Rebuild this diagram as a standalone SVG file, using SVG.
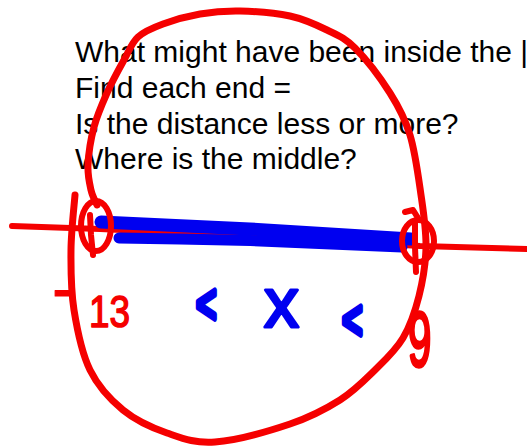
<svg xmlns="http://www.w3.org/2000/svg" width="527" height="448" viewBox="0 0 527 448">
<style>
.q{font-family:"Liberation Sans",Arial,sans-serif;font-size:30px;fill:#000}
.ink{fill:none;stroke-linecap:round;stroke-linejoin:round}
.red{stroke:#f50000}
.blue{stroke:#0000f0}
.hr{font-family:"Liberation Sans",Arial,sans-serif;fill:#f50000;stroke:#f50000;stroke-linejoin:round}
.hb{font-family:"Liberation Sans",Arial,sans-serif;fill:#0000f0;stroke:#0000f0;stroke-linejoin:round}
</style>
<rect width="527" height="448" fill="#fff"/>
<g id="questions">
<text class="q" x="75" y="61.5">What might have been inside the |</text>
<text class="q" x="75" y="97.5">Find each end =</text>
<text class="q" x="75" y="133.5">Is the distance less or more?</text>
<text class="q" x="75" y="169">Where is the middle?</text>
</g>
<g id="number-line">
<path class="ink red" stroke-width="6" d="M12,226 L100,229 L250,236 L420,246 L527,249"/>
</g>
<g id="segment">
<path class="ink blue" stroke-width="13" d="M101,222 L250,229 L411,239"/>
<path class="ink blue" stroke-width="11" d="M119,238 L180,239 L250,240.5 L402,247"/>
</g>
<g id="loop">
<path class="ink red" stroke-width="7" d="M75,195 C74.3,204.2 71.2,230.8 71,250 C70.8,269.2 70.8,290 74,310 C77.2,330 81.8,353.3 90,370 C98.2,386.7 110.2,399.5 123,410 C135.8,420.5 151.7,427.7 167,433 C182.3,438.3 194.5,443.5 215,442 C235.5,440.5 269.2,431 290,424 C310.8,417 325.8,409 340,400 C354.2,391 364.5,380.3 375,370 C385.5,359.7 395.7,350.3 403,338 C410.3,325.7 415.2,311.2 419,296 C422.8,280.8 425.7,263.8 426,247 C426.3,230.2 423.7,213.7 421,195 C418.3,176.3 415.2,152 410,135 C404.8,118 399.2,107.5 390,93 C380.8,78.5 365.5,58.5 355,48 C344.5,37.5 337.8,35.3 327,30 C316.2,24.7 304.5,19.2 290,16 C275.5,12.8 255,11.3 240,11 C225,10.7 212.8,11.8 200,14 C187.2,16.2 173.3,20.2 163,24 C152.7,27.8 144.5,31 138,37 C131.5,43 129.2,50.7 124,60 C118.8,69.3 112,81.8 107,93 C102,104.2 97.2,115 94,127 C90.8,139 88.5,154.5 88,165 C87.5,175.5 89.5,183.3 91,190 C92.5,196.7 96,202.5 97,205"/>
</g>
<g id="left-end">
<ellipse class="ink red" stroke-width="6" cx="96" cy="226" rx="15" ry="25"/>
<path class="ink red" stroke-width="6" d="M90,215 L91,235 L93,255"/>
</g>
<g id="right-end">
<ellipse class="ink red" stroke-width="6" cx="418" cy="241" rx="16" ry="21"/>
<path class="ink red" stroke-width="6" d="M405,212 L413,210 L418,218 M415,222 L415,247 L416,272"/>
</g>
<g id="labels">
<text class="hr" x="52" y="312" font-size="70" stroke-width="1">-</text>
<text class="hr" x="89" y="327" font-size="44" stroke-width="1.5" textLength="41" lengthAdjust="spacingAndGlyphs">13</text>
<text class="hr" transform="translate(408,366) scale(0.75,1.4)" font-size="56" stroke-width="2.5">9</text>
<text class="hb" transform="translate(196,323) scale(0.8,1.25)" font-size="44" stroke-width="5">&lt;</text>
<text class="hb" x="264" y="327" font-size="70" stroke-width="3">x</text>
<text class="hb" transform="translate(342,339) scale(0.8,1.25)" font-size="44" stroke-width="5">&lt;</text>
</g>
</svg>
